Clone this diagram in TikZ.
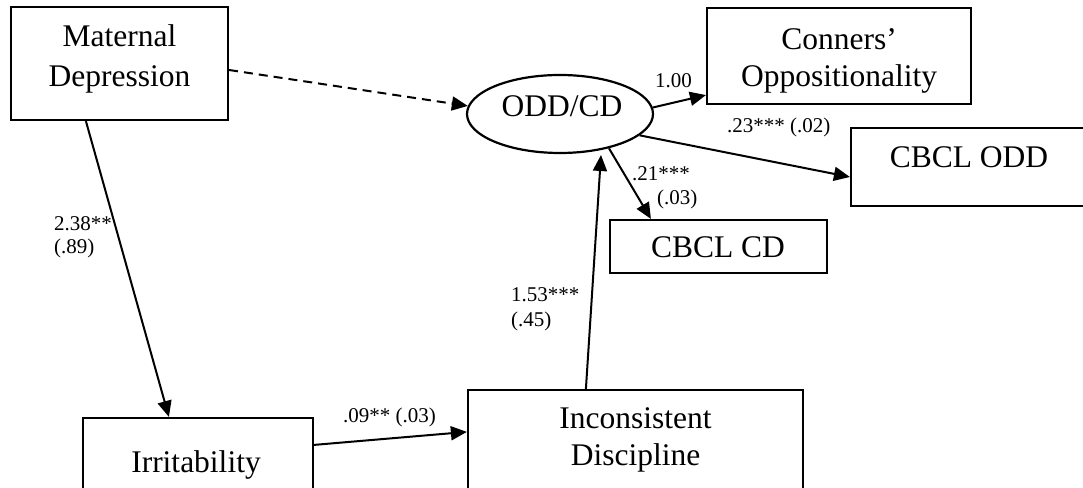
\documentclass[tikz,border=0pt]{standalone}
\usepackage{fontspec}
\setmainfont{Liberation Serif}
\usetikzlibrary{arrows.meta,shapes.geometric,calc}
\begin{document}
\begin{tikzpicture}[x=1pt,y=1pt,
  boxnode/.style={draw,line width=2.2pt,rectangle,inner sep=0pt,anchor=center},
  ellnode/.style={draw,line width=2.2pt,ellipse,inner sep=0pt,anchor=center},
  boxtext/.style={anchor=base,inner sep=0pt,font=\fontsize{31.5}{38}\selectfont},
  lab/.style={anchor=base west,inner sep=0pt,font=\fontsize{21}{24}\selectfont},
  arr/.style={line width=2pt,-{Triangle[length=16pt,width=14pt]}},
  dasharr/.style={arr,dash pattern=on 9pt off 6pt}]
\clip (0,0) rectangle (1083,487);
% boxes
\node[boxnode,minimum width=217pt,minimum height=113pt] (md) at (119.5,423.5) {};
\node[boxnode,minimum width=264pt,minimum height=96pt] (con) at (839,431) {};
\node[boxnode,minimum width=249pt,minimum height=78pt] (odd) at (975.5,320) {};
\node[boxnode,minimum width=217pt,minimum height=53pt] (cd) at (718.5,240.5) {};
\node[boxnode,minimum width=230pt,minimum height=92pt] (irr) at (198,23) {};
\node[boxnode,minimum width=335pt,minimum height=120pt] (inc) at (635.5,37) {};
\node[ellnode,minimum width=186pt,minimum height=78pt] (ell) at (560,373) {};
% box texts
\node[boxtext] (mdt1) at (119.5,440) {Maternal};
\node[boxtext] (mdt2) at (119.5,400) {Depression};
\node[boxtext] (cont1) at (839,437) {Conners’};
\node[boxtext] (cont2) at (839,400) {Oppositionality};
\node[boxtext] (oddt) at (969,319) {CBCL ODD};
\node[boxtext] (cdt) at (718,229) {CBCL CD};
\node[boxtext] (irrt) at (196,15) {Irritability};
\node[boxtext] (inct1) at (635.5,59) {Inconsistent};
\node[boxtext] (inct2) at (635.5,22) {Discipline};
\node[boxtext] (ellt) at (562,370) {ODD/CD};
% connectors
\draw[dasharr] ($(md.east)+(0,-6.5)$) -- (ell.175);
\draw[arr] ($(md.south west)+(76,0)$) -- ($(irr.north west)+(87,0)$);
\draw[arr] ($(irr.north east)+(0,-28)$) -- ($(inc.north west)+(0,-43)$);
\draw[arr] ($(inc.north west)+(119,0)$) -- ($(ell.center)+(41,-41)$);
\draw[arr] (ell.4) -- ($(con.south west)+(0,10)$);
\draw[arr] (ell.-15) -- ($(odd.west)+(0,-10)$);
\draw[arr] (ell.-35) -- ($(cd.north west)+(42,0)$);
% labels
\node[lab] (l1) at (54,256) {2.38**};
\node[lab] (l2) at (54,233) {(.89)};
\node[lab] (l3) at (343,64) {.09** (.03)};
\node[lab] (l4) at (511,185) {1.53***};
\node[lab] (l5) at (511,160) {(.45)};
\node[lab] (l6) at (655,399) {1.00};
\node[lab] (l7) at (727,354) {.23*** (.02)};
\node[lab] (l8) at (632,306) {.21***};
\node[lab] (l9) at (657,282) {(.03)};
\end{tikzpicture}
\end{document}
